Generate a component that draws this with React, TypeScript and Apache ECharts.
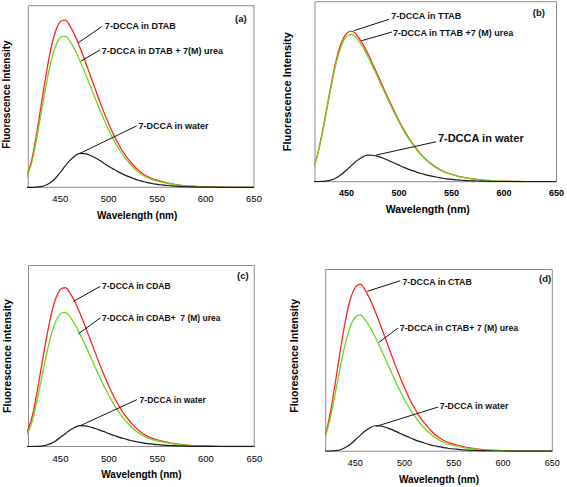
import React, { useEffect, useRef } from "react";
import * as echarts from "echarts";

const wavelengths = [415, 420, 425, 430, 435, 440, 445, 450, 455, 460, 465, 470, 475, 480, 485, 490, 495, 500, 505, 510, 515, 520, 525, 530, 535, 540, 545, 550, 555, 560, 565, 570, 575, 580, 585, 590, 595, 600, 615, 630, 650];
const xTicks = [450, 500, 550, 600, 650];

// Panel (a) DTAB
const redA = [5.5, 13.8, 27.6, 44.2, 60.8, 75.5, 85.7, 91.2, 92.1, 88.9, 83.8, 77.4, 70.5, 63.1, 55.7, 48.4, 41.4, 35.0, 29.0, 23.9, 19.3, 15.7, 12.4, 9.7, 7.6, 5.9, 4.7, 3.9, 3.1, 2.5, 1.9, 1.5, 1.1, 0.8, 0.6, 0.5, 0.4, 0.3, 0.05, 0, 0];
const greenA = [5.0, 12.5, 25.0, 40.0, 55.0, 68.3, 77.5, 82.5, 83.3, 80.4, 75.8, 70.0, 63.7, 57.1, 50.4, 43.7, 37.5, 31.7, 26.2, 21.7, 17.5, 14.2, 11.2, 8.7, 6.8, 5.3, 4.2, 3.5, 2.8, 2.2, 1.7, 1.3, 1.0, 0.7, 0.6, 0.4, 0.3, 0.2, 0.04, 0, 0];
const blackA = [0, 0, 0.1, 0.4, 1.1, 2.6, 5.0, 8.2, 11.6, 14.8, 17.2, 18.7, 18.5, 17.8, 16.5, 15.0, 13.3, 11.6, 10.0, 8.5, 7.2, 6.0, 5.0, 4.0, 3.3, 2.6, 2.1, 1.6, 1.3, 1.0, 0.8, 0.6, 0.4, 0.3, 0.2, 0.2, 0.1, 0.1, 0, 0, 0];

// Panel (b) TTAB
const redB = [4.2, 10.2, 21.8, 36.8, 52.7, 67.0, 77.0, 82.4, 83.7, 81.2, 77.0, 71.6, 65.3, 59.0, 52.3, 46.0, 39.8, 33.9, 28.5, 23.7, 19.5, 15.9, 12.8, 10.2, 8.1, 6.4, 5.1, 4.1, 3.3, 2.6, 2.0, 1.6, 1.3, 0.9, 0.7, 0.5, 0.3, 0.3, 0.1, 0, 0];
const greenB = [4.1, 10.0, 21.3, 36.0, 51.6, 65.5, 75.3, 80.7, 81.9, 79.4, 75.3, 70.0, 63.9, 57.7, 51.2, 45.0, 38.9, 33.2, 27.8, 23.2, 19.1, 15.6, 12.5, 10.0, 7.9, 6.3, 5.0, 4.0, 3.2, 2.5, 2.0, 1.6, 1.2, 0.9, 0.7, 0.5, 0.3, 0.2, 0.1, 0, 0];
const blackB = [0, 0, 0.1, 0.3, 0.9, 2.1, 4.0, 6.5, 9.2, 11.7, 13.6, 14.8, 14.7, 14.1, 13.0, 11.8, 10.5, 9.2, 7.9, 6.7, 5.7, 4.7, 3.9, 3.2, 2.6, 2.1, 1.6, 1.3, 1.0, 0.8, 0.6, 0.5, 0.4, 0.3, 0.2, 0.1, 0.1, 0.1, 0, 0, 0];

// Panel (c) CDAB
const redC = [7.5, 14.9, 27.6, 43.0, 58.3, 71.9, 81.6, 86.8, 87.7, 84.6, 79.8, 73.7, 67.1, 60.1, 53.1, 46.0, 39.5, 33.3, 27.6, 22.8, 18.4, 14.9, 11.8, 9.2, 7.2, 5.6, 4.5, 3.7, 3.0, 2.4, 1.8, 1.4, 1.1, 0.8, 0.6, 0.4, 0.4, 0.3, 0.04, 0, 0];
const greenC = [6.3, 12.6, 23.3, 36.3, 49.3, 60.8, 68.9, 73.4, 74.1, 71.5, 67.4, 62.2, 56.7, 50.8, 44.8, 38.9, 33.3, 28.2, 23.3, 19.3, 15.6, 12.6, 10.0, 7.8, 6.1, 4.7, 3.8, 3.1, 2.5, 2.0, 1.6, 1.2, 0.9, 0.7, 0.5, 0.4, 0.3, 0.2, 0.04, 0, 0];
const blackC = [0, 0, 0.1, 0.2, 0.7, 1.6, 3.1, 5.1, 7.1, 9.1, 10.6, 11.5, 11.4, 10.9, 10.1, 9.2, 8.2, 7.1, 6.2, 5.2, 4.4, 3.7, 3.0, 2.5, 2.0, 1.6, 1.3, 1.0, 0.8, 0.6, 0.5, 0.4, 0.3, 0.2, 0.1, 0.1, 0.1, 0.1, 0, 0, 0];

// Panel (d) CTAB
const redD = [3.7, 9.8, 22.1, 38.6, 56.1, 71.7, 83.6, 90.1, 91.9, 88.7, 83.6, 77.2, 70.3, 63.0, 55.6, 48.2, 41.4, 34.9, 28.9, 23.9, 19.3, 15.6, 12.4, 9.6, 7.5, 5.9, 4.7, 3.9, 3.1, 2.5, 1.9, 1.5, 1.1, 0.8, 0.6, 0.5, 0.4, 0.3, 0.05, 0, 0];
const greenD = [3.8, 8.9, 19.1, 32.6, 46.9, 59.3, 68.6, 73.7, 75.0, 72.4, 68.3, 63.0, 57.4, 51.4, 45.4, 39.4, 33.8, 28.5, 23.6, 19.5, 15.8, 12.8, 10.1, 7.9, 6.2, 4.8, 3.8, 3.2, 2.6, 2.0, 1.6, 1.2, 0.9, 0.7, 0.5, 0.4, 0.3, 0.2, 0.04, 0, 0];
const blackD = [0, 0, 0.1, 0.3, 0.8, 2.0, 3.8, 6.2, 8.7, 11.1, 12.9, 14.0, 13.9, 13.3, 12.3, 11.2, 9.9, 8.7, 7.5, 6.4, 5.4, 4.5, 3.7, 3.0, 2.5, 2.0, 1.5, 1.2, 1.0, 0.7, 0.6, 0.4, 0.3, 0.3, 0.2, 0.1, 0.1, 0.1, 0, 0, 0];

const FONT = "Arial, 'Liberation Sans', Helvetica, sans-serif";
const RED = "#ff2424";
const GREEN = "#6fd61c";
const BLACK = "#1a1a1a";

type Ann = { tip: number[]; end: number[]; text: number[]; label: string; size: number };

const panels = [
  {
    tag: "(a)", tagAt: [630.4, 93.1], yName: "Fluorescence Intensity", xmin: 417,
    grid: { left: 28.3, top: 5.7, width: 225.7, height: 181.6 },
    red: redA, green: greenA, black: blackA,
    tickBold: "normal", tickSize: 9.5, tickMargin: 6, xNameSize: 10, xNameGap: 23, xNamePad: [0, 8, 0, 0],
    yNameSize: 10, yNameGap: 16.5, yNamePad: [0, 0, 0, 4],
    anns: [
      { tip: [468.6, 79.6], end: [492.8, 88.4], text: [496.0, 88.8], label: "7-DCCA in DTAB", size: 9 },
      { tip: [471.4, 69.5], end: [491.0, 75.6], text: [492.8, 75.1], label: "7-DCCA in DTAB + 7(M) urea", size: 9 },
      { tip: [470.4, 18.7], end: [528.9, 33.8], text: [530.6, 33.8], label: "7-DCCA in water", size: 9 },
    ] as Ann[],
  },
  {
    tag: "(b)", tagAt: [627.4, 93.9], yName: "Fluorescence Intensity", xmin: 420,
    grid: { left: 315, top: 1.7, width: 241.7, height: 180 },
    red: redB, green: greenB, black: blackB,
    tickBold: "bold", tickSize: 9, tickMargin: 7, xNameSize: 10.5, xNameGap: 22, xNamePad: [0, 16, 0, 0],
    yNameSize: 11, yNameGap: 23, yNamePad: [0, 0, 0, 0],
    anns: [
      { tip: [457.1, 83.9], end: [490.4, 90.2], text: [492.6, 92.2], label: "7-DCCA in TTAB", size: 9 },
      { tip: [464.1, 78.3], end: [493.5, 83.2], text: [494.2, 82.8], label: "7-DCCA in TTAB +7 (M) urea", size: 9 },
      { tip: [478.3, 14.8], end: [535.4, 22.2], text: [537.0, 24.1], label: "7-DCCA in water", size: 11 },
    ] as Ann[],
  },
  {
    tag: "(c)", tagAt: [632.1, 94.4], yName: "Fluorescence intensity", xmin: 417,
    grid: { left: 28.3, top: 265.5, width: 226, height: 181 },
    red: redC, green: greenC, black: blackC,
    tickBold: "normal", tickSize: 9.5, tickMargin: 7, xNameSize: 10, xNameGap: 22.5, xNamePad: [0, 0, 0, 0],
    yNameSize: 10.5, yNameGap: 16.5, yNamePad: [0, 0, 0, 0],
    anns: [
      { tip: [463.5, 80.2], end: [491.0, 88.5], text: [492.8, 88.5], label: "7-DCCA in CDAB", size: 8.5 },
      { tip: [468.6, 62.3], end: [491.0, 71.0], text: [492.8, 71.0], label: "7-DCCA in CDAB+  7 (M) urea", size: 8.5 },
      { tip: [470.4, 11.5], end: [528.9, 25.9], text: [531.6, 25.9], label: "7-DCCA in water", size: 8.5 },
    ] as Ann[],
  },
  {
    tag: "(d)", tagAt: [636.5, 95.3], yName: "Fluorescence Intensity", xmin: 420,
    grid: { left: 325.7, top: 269.5, width: 226.6, height: 181.7 },
    red: redD, green: greenD, black: blackD,
    tickBold: "normal", tickSize: 9, tickMargin: 7, xNameSize: 10, xNameGap: 23.5, xNamePad: [0, 0, 0, 0],
    yNameSize: 10.5, yNameGap: 26, yNamePad: [0, 0, 0, 9],
    anns: [
      { tip: [462.2, 88.0], end: [495.7, 93.8], text: [497.8, 93.1], label: "7-DCCA in CTAB", size: 8.8 },
      { tip: [474.1, 59.9], end: [493.4, 67.8], text: [495.1, 67.8], label: "7-DCCA in CTAB+ 7 (M) urea", size: 8.8 },
      { tip: [471.4, 13.7], end: [534.0, 24.3], text: [535.7, 24.7], label: "7-DCCA in water", size: 8.8 },
    ] as Ann[],
  },
];

function buildOption() {
  const grid: any[] = [];
  const xAxis: any[] = [];
  const yAxis: any[] = [];
  const series: any[] = [];
  panels.forEach((p, i) => {
    grid.push({ ...p.grid, show: true, borderColor: "#8a8a8a", borderWidth: 1, backgroundColor: "transparent" });
    xAxis.push({
      type: "value", gridIndex: i, min: p.xmin, max: 650,
      name: "Wavelength (nm)", nameLocation: "middle", nameGap: p.xNameGap,
      nameTextStyle: { fontFamily: FONT, fontWeight: "bold", fontSize: p.xNameSize, color: "#000", padding: p.xNamePad },
      axisLine: { show: false }, axisTick: { show: false }, splitLine: { show: false },
      axisLabel: { customValues: xTicks, margin: p.tickMargin, fontFamily: FONT, fontSize: p.tickSize, fontWeight: p.tickBold, color: "#000", showMinLabel: true, showMaxLabel: true },
    });
    yAxis.push({
      type: "value", gridIndex: i, min: 0, max: 100,
      name: p.yName, nameLocation: "middle", nameGap: p.yNameGap, nameRotate: 90,
      nameTextStyle: { fontFamily: FONT, fontWeight: "bold", fontSize: p.yNameSize, color: "#000", padding: p.yNamePad },
      axisLine: { show: false }, axisTick: { show: false }, axisLabel: { show: false }, splitLine: { show: false },
    });
    const mk = (vals: number[]) => wavelengths.map((w, k) => [w, vals[k]]);
    const base = { type: "line", xAxisIndex: i, yAxisIndex: i, showSymbol: false, smooth: 0.35, silent: true, clip: true };
    series.push({ ...base, name: "red" + i, data: mk(p.red), lineStyle: { color: RED, width: 1.3 }, itemStyle: { color: RED } });
    series.push({ ...base, name: "green" + i, data: mk(p.green), lineStyle: { color: GREEN, width: 1.3 }, itemStyle: { color: GREEN } });
    series.push({
      ...base, name: "black" + i, data: mk(p.black), lineStyle: { color: BLACK, width: 1.2 }, itemStyle: { color: BLACK },
      markLine: {
        silent: true, symbol: ["none", "none"], label: { show: false },
        lineStyle: { color: "#111", width: 1, type: "solid" },
        data: p.anns.map((a) => [{ coord: a.tip }, { coord: a.end }]),
      },
      markPoint: {
        silent: true, symbol: "circle", symbolSize: 0.1, itemStyle: { color: "transparent" },
        data: [
          ...p.anns.map((a) => ({
            coord: a.text,
            label: { show: true, position: "right", distance: 0, formatter: a.label, color: "#111", fontFamily: FONT, fontWeight: "bold", fontSize: a.size },
          })),
          {
            coord: p.tagAt,
            label: { show: true, position: "right", distance: 0, formatter: p.tag, color: "#111", fontFamily: FONT, fontWeight: "bold", fontSize: 9.5 },
          },
        ],
      },
    });
  });
  return { animation: false, backgroundColor: "#ffffff", grid, xAxis, yAxis, series };
}

export default function App() {
  const ref = useRef<HTMLDivElement>(null);
  useEffect(() => {
    if (!ref.current) return;
    const chart = echarts.init(ref.current, null, { renderer: "svg" });
    chart.setOption(buildOption() as any);
    return () => chart.dispose();
  }, []);
  return (
    <div
      ref={ref}
      style={{ position: "absolute", left: 0, top: 0, width: 567, height: 487, background: "#fff" }}
    />
  );
}
